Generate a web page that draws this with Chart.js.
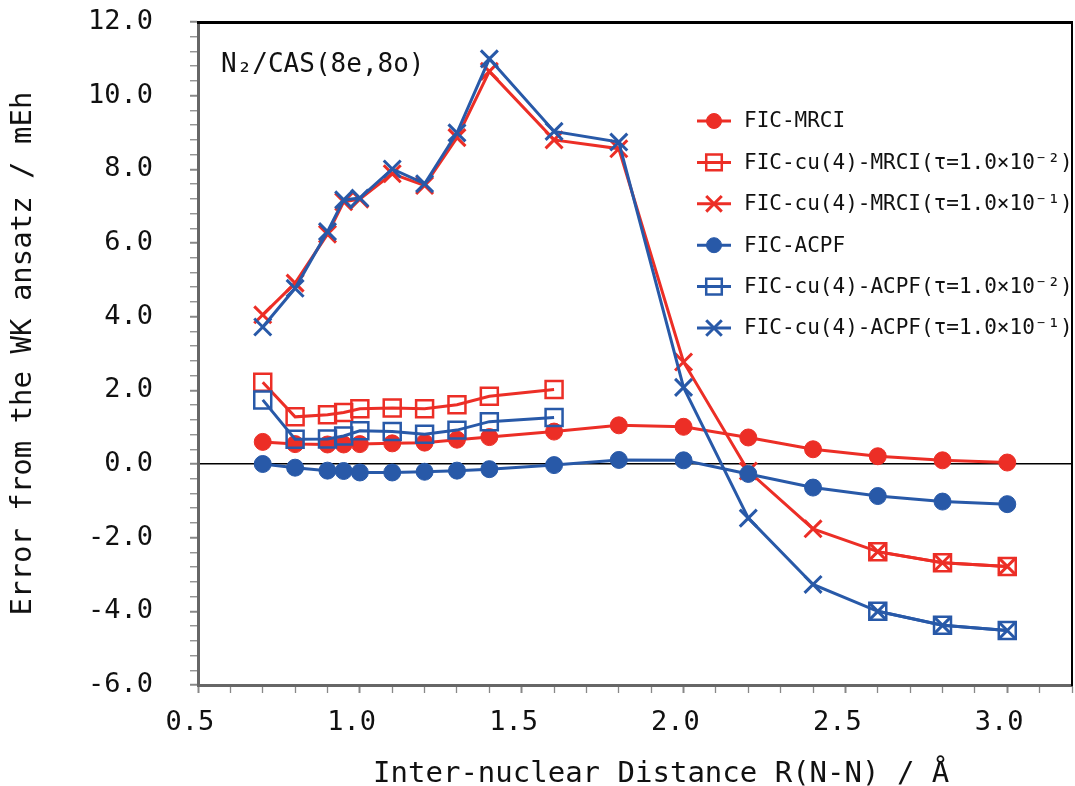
<!DOCTYPE html>
<html>
<head>
<meta charset="utf-8">
<script src="https://cdn.jsdelivr.net/npm/chart.js@4.4.0/dist/chart.umd.min.js"></script>
<style>
    html, body { margin: 0; padding: 0; background: #fff; overflow: hidden; }
    #wrap { width: 1075px; height: 786px; }
    canvas { display: block; }
</style>
</head>
<body>
<div id="wrap"><canvas id="chart" width="1075" height="786"></canvas></div>
<script>
// Inter-nuclear distance R(N-N) / Angstrom
const distances = [0.7, 0.8, 0.9, 0.95, 1.0, 1.1, 1.2, 1.3, 1.4, 1.6, 1.8, 2.0, 2.2, 2.4, 2.6, 2.8, 3.0];

// Error from the WK ansatz / mEh (null = not computed)
const ficMrci    = [0.60, 0.54, 0.53, 0.53, 0.54, 0.56, 0.58, 0.66, 0.73, 0.88, 1.05, 1.01, 0.72, 0.40, 0.21, 0.10, 0.04];
const cuMrciTau2 = [2.22, 1.28, 1.34, 1.40, 1.50, 1.52, 1.50, 1.61, 1.84, 2.02, null, null, null, null, -2.38, -2.68, -2.78];
const cuMrciTau1 = [4.05, 4.91, 6.24, 7.12, 7.19, 7.88, 7.56, 8.86, 10.66, 8.80, 8.56, 2.77, -0.19, -1.76, -2.38, -2.68, -2.78];
const ficAcpf    = [0.00, -0.10, -0.18, -0.19, -0.23, -0.23, -0.21, -0.18, -0.14, -0.03, 0.11, 0.10, -0.27, -0.64, -0.87, -1.02, -1.09];
const cuAcpfTau2 = [1.74, 0.67, 0.68, 0.76, 0.90, 0.88, 0.81, 0.92, 1.15, 1.26, null, null, null, null, -4.00, -4.38, -4.52];
const cuAcpfTau1 = [3.72, 4.77, 6.31, 7.17, 7.22, 8.01, 7.61, 8.99, 11.0, 9.03, 8.74, 2.08, -1.47, -3.27, -4.00, -4.38, -4.52];

const seriesLabels = [
    'FIC-MRCI',
    'FIC-cu(4)-MRCI(τ=1.0×10⁻²)',
    'FIC-cu(4)-MRCI(τ=1.0×10⁻¹)',
    'FIC-ACPF',
    'FIC-cu(4)-ACPF(τ=1.0×10⁻²)',
    'FIC-cu(4)-ACPF(τ=1.0×10⁻¹)'
];

// Labelled ticks
const xTickLabels = [0.5, 1.0, 1.5, 2.0, 2.5, 3.0];
const yTickLabels = [-6, -4, -2, 0, 2, 4, 6, 8, 10, 12];

const RED = 'rgb(236, 46, 38)';
const BLUE = 'rgb(40, 89, 168)';
const FONT = "'DejaVu Sans Mono', monospace";

function makeDataset(label, values, color, marker, index) {
    const ds = {
        label: label,
        data: distances.map((x, i) => ({ x: x, y: values[i] })),
        borderColor: color,
        borderWidth: 3,
        tension: 0,
        spanGaps: false,
        pointStyle: marker,
        pointBorderColor: color,
        order: -index
    };
    if (marker === 'circle') {
        ds.pointRadius = 8.5;
        ds.pointBackgroundColor = color;
        ds.pointBorderWidth = 1;
    } else if (marker === 'rect') {
        ds.pointRadius = 12;
        ds.pointBackgroundColor = 'rgba(0,0,0,0)';
        ds.pointBorderWidth = 2.5;
    } else {
        ds.pointRadius = 12;
        ds.pointBackgroundColor = color;
        ds.pointBorderWidth = 3;
    }
    ds.pointHoverRadius = ds.pointRadius;
    return ds;
}

const isLabelled = (list, v) => list.some(t => Math.abs(t - v) < 1e-6);

// keep the plot box where the reference has it
function noPadding(scale) {
    scale.paddingTop = 0;
    scale.paddingBottom = 0;
    scale.paddingLeft = 0;
    scale.paddingRight = 0;
}

// Legend drawn inside the plot area, line + marker + text
const insideLegend = {
    id: 'insideLegend',
    afterDatasetsDraw(chart) {
        const ctx = chart.ctx;
        ctx.save();
        ctx.font = '21px ' + FONT;
        ctx.textBaseline = 'middle';
        chart.data.datasets.forEach((ds, i) => {
            const y = 121 + i * 41.4;
            ctx.strokeStyle = ds.borderColor;
            ctx.lineWidth = 3;
            ctx.beginPath();
            ctx.moveTo(697, y);
            ctx.lineTo(731, y);
            ctx.stroke();
            ctx.fillStyle = ds.pointBackgroundColor;
            ctx.strokeStyle = ds.pointBorderColor;
            ctx.lineWidth = ds.pointBorderWidth;
            Chart.helpers.drawPoint(ctx, {
                pointStyle: ds.pointStyle,
                radius: ds.pointStyle === 'circle' ? 7.5 : 11,
                rotation: 0,
                borderWidth: ds.pointBorderWidth
            }, 714, y);
            ctx.fillStyle = '#111';
            ctx.fillText(ds.label, 744, y + 1);
        });
        ctx.restore();
    }
};

// System label in the upper-left corner of the plot
const systemLabel = {
    id: 'systemLabel',
    afterDraw(chart) {
        const ctx = chart.ctx;
        ctx.save();
        ctx.font = '26px ' + FONT;
        ctx.fillStyle = '#111';
        ctx.textBaseline = 'middle';
        ctx.fillText('N₂/CAS(8e,8o)', chart.chartArea.left + 23, 65);
        ctx.restore();
    }
};

const datasets = [
    makeDataset(seriesLabels[0], ficMrci, RED, 'circle', 0),
    makeDataset(seriesLabels[1], cuMrciTau2, RED, 'rect', 1),
    makeDataset(seriesLabels[2], cuMrciTau1, RED, 'crossRot', 2),
    makeDataset(seriesLabels[3], ficAcpf, BLUE, 'circle', 3),
    makeDataset(seriesLabels[4], cuAcpfTau2, BLUE, 'rect', 4),
    makeDataset(seriesLabels[5], cuAcpfTau1, BLUE, 'crossRot', 5)
];

Chart.defaults.font.family = FONT;
Chart.defaults.color = '#111';

new Chart(document.getElementById('chart').getContext('2d'), {
    type: 'line',
    data: { datasets: datasets },
    plugins: [insideLegend, systemLabel],
    options: {
        responsive: false,
        animation: false,
        devicePixelRatio: 1,
        layout: { autoPadding: false, padding: { top: 22, right: 3, left: 0, bottom: 0 } },
        plugins: {
            legend: { display: false },
            tooltip: { enabled: false }
        },
        scales: {
            x: {
                type: 'linear',
                position: 'bottom',
                min: 0.5,
                max: 3.2,
                afterFit: (scale) => { scale.height = 101; noPadding(scale); },
                ticks: {
                    stepSize: 0.1,
                    autoSkip: false,
                    maxRotation: 0,
                    padding: 14,
                    font: { size: 27 },
                    callback: (v) => isLabelled(xTickLabels, v) ? v.toFixed(1) + ' ' : ''
                },
                grid: {
                    drawOnChartArea: false,
                    tickLength: 8,
                    tickColor: '#888',
                    tickWidth: (c) => c.tick && isLabelled(xTickLabels, c.tick.value) ? 2 : 1.3
                },
                border: { color: '#666', width: 3 },
                title: {
                    display: true,
                    // leading spaces nudge the centred title to the right, as in the reference
                    text: '   Inter-nuclear Distance R(N-N) / Å',
                    font: { size: 29, lineHeight: 0.8 },
                    padding: { top: 0, bottom: 0 }
                }
            },
            y: {
                type: 'linear',
                position: 'left',
                min: -6,
                max: 12,
                afterFit: (scale) => { scale.width = 198; noPadding(scale); },
                ticks: {
                    stepSize: 0.4,
                    autoSkip: false,
                    padding: 37,
                    font: { size: 27 },
                    callback: (v) => isLabelled(yTickLabels, v) ? v.toFixed(1) : ''
                },
                grid: {
                    drawOnChartArea: true,
                    tickLength: 8,
                    lineWidth: 1.5,
                    color: (c) => c.tick && Math.abs(c.tick.value) < 1e-6 ? '#000' : 'rgba(0,0,0,0)',
                    tickColor: '#888',
                    tickWidth: (c) => c.tick && isLabelled(yTickLabels, c.tick.value) ? 2 : 1.3
                },
                border: { color: '#666', width: 3 },
                title: {
                    display: true,
                    text: 'Error from the WK ansatz / mEh',
                    font: { size: 29, lineHeight: 0.8 },
                    padding: { top: 12, bottom: 0 }
                }
            },
            xTop: {
                axis: 'x',
                type: 'linear',
                position: 'top',
                min: 0,
                max: 1,
                afterFit: (scale) => { scale.height = 0; noPadding(scale); },
                ticks: { display: false },
                grid: { display: false, drawTicks: false },
                border: { color: '#000', width: 3 }
            },
            yRight: {
                axis: 'y',
                type: 'linear',
                position: 'right',
                min: 0,
                max: 1,
                afterFit: (scale) => { scale.width = 0; noPadding(scale); },
                ticks: { display: false },
                grid: { display: false, drawTicks: false },
                border: { color: '#000', width: 2 }
            }
        }
    }
});
</script>
</body>
</html>
